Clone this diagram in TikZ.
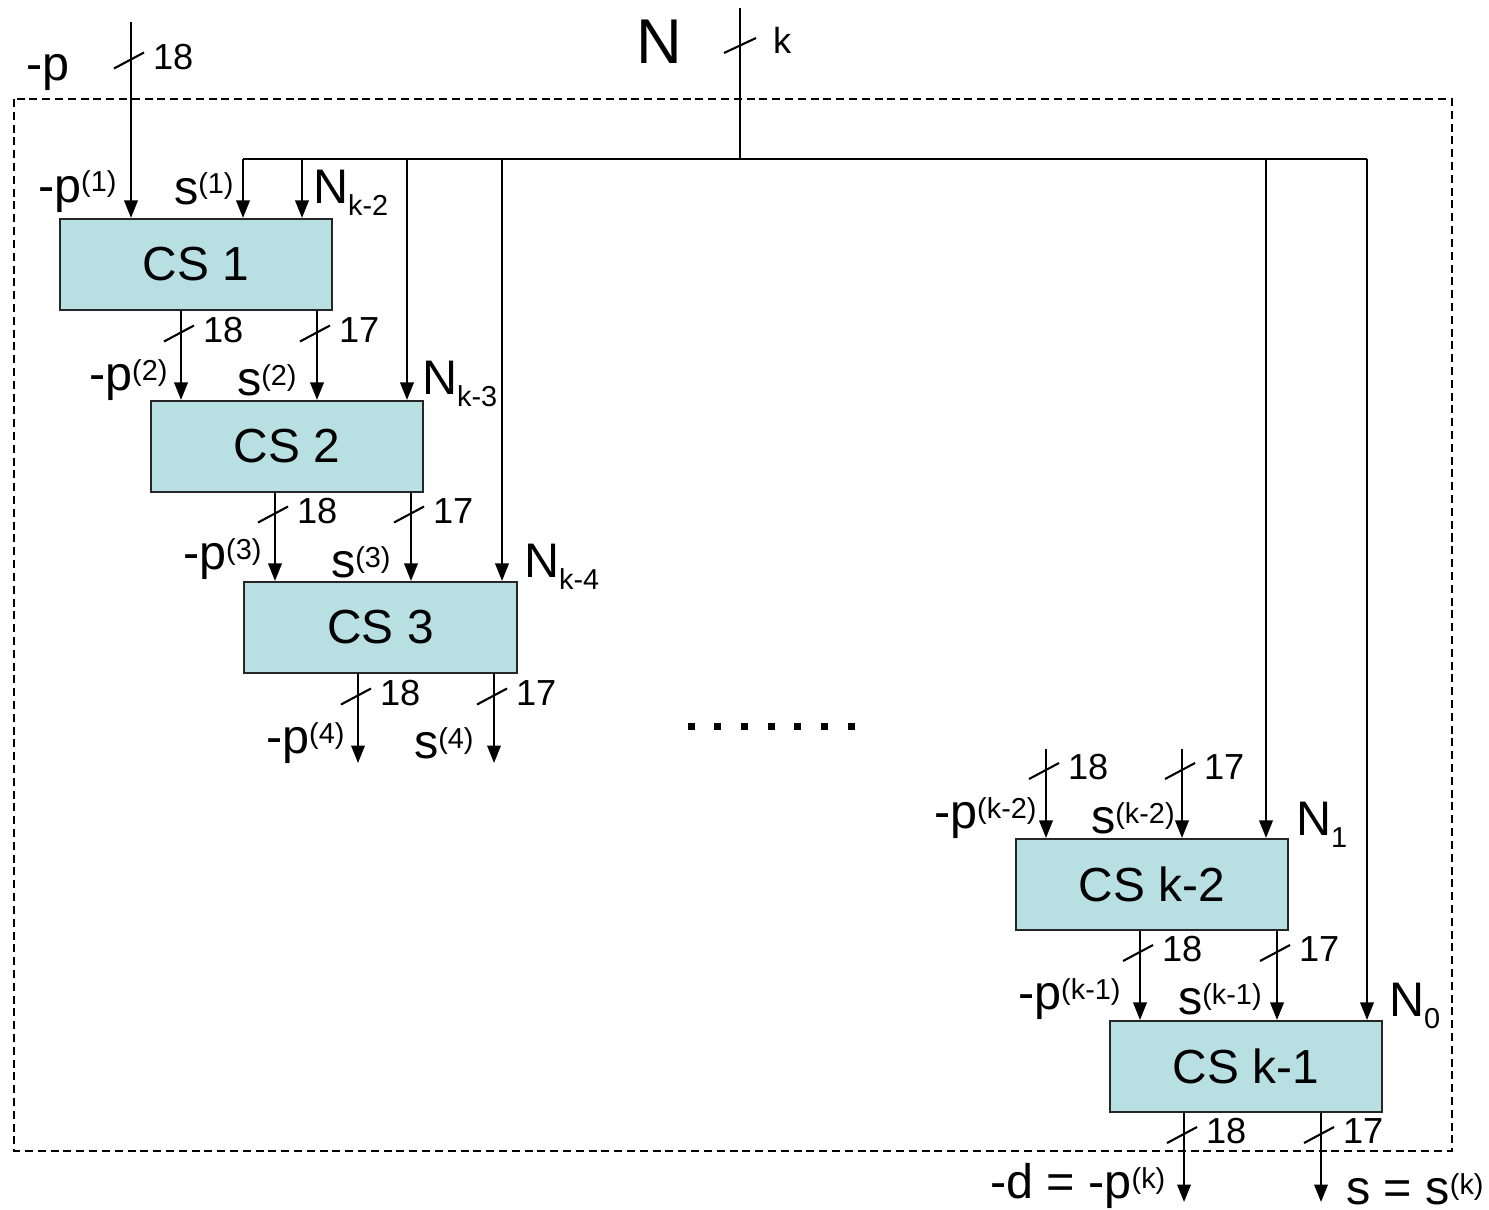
\documentclass[tikz,border=0pt]{standalone}
\usepackage{fontspec}
\setmainfont{Liberation Sans}
\usetikzlibrary{arrows.meta}
\definecolor{boxc}{RGB}{184,224,227}
\newcommand\upx[1]{\raisebox{0.1cm}{\fontsize{8.2}{8}\selectfont #1}}
\newcommand\dnx[1]{\raisebox{-0.125cm}{\fontsize{8.2}{8}\selectfont #1}}
\newcommand\wtick[4]{%
  \draw ({#1-17},{#2+8}) -- ({#1+13},{#2-8});
  \node[num] (#4) at ({#1+21},{#2+8.5}) {#3};}
\begin{document}
\begin{tikzpicture}[x=0.01cm,y=-0.01cm,line width=0.6pt,
  lbl/.style={anchor=base west,inner sep=0pt,font=\fontsize{13.8}{14}\selectfont},
  num/.style={anchor=base west,inner sep=0pt,font=\fontsize{10.3}{11}\selectfont},
  csbox/.style={draw=black!85,fill=boxc,minimum width=2.72cm,minimum height=0.91cm,
    inner sep=0pt,font=\fontsize{13.6}{15}\selectfont},
  arr/.style={-{Triangle[length=0.175cm,width=0.135cm]}},
  dashedframe/.style={dash pattern=on 0.08cm off 0.048cm}]
\useasboundingbox (0,0) rectangle (1489,1209);
\draw[dashedframe] (14,99) rectangle (1452,1151);

% boxes
\node[csbox] (cs1) at (196,264.5) {CS 1};
\node[csbox] (cs2) at (287,446.5) {CS 2};
\node[csbox] (cs3) at (380.5,627.5) {CS 3};
\node[csbox] (csk2) at (1152,884.5) {CS k-2};
\node[csbox] (csk1) at (1246,1066.5) {CS k-1};

% coordinates
\coordinate (ptop) at (131,22);
\coordinate (ntop) at (740,8);
\coordinate (bj) at (740,159);
\coordinate (busL) at (243,159);
\coordinate (b2) at (302,159);
\coordinate (b3) at (407,159);
\coordinate (b4) at (502,159);
\coordinate (b5) at (1266,159);
\coordinate (busR) at (1367,159);
\coordinate (x1a) at (181,0);
\coordinate (x1b) at (317,0);
\coordinate (x2a) at (275,0);
\coordinate (x2b) at (411,0);
\coordinate (e3a) at (358,763);
\coordinate (e3b) at (494,763);
\coordinate (k2a) at (1046,749);
\coordinate (k2b) at (1182,749);
\coordinate (xka) at (1140,0);
\coordinate (xkb) at (1277,0);
\coordinate (eka) at (1184,1202);
\coordinate (ekb) at (1321,1202);

% top inputs and bus
\draw[arr] (ptop) -- (ptop |- cs1.north);
\draw (ntop) -- (bj);
\draw (busL) -- (busR);
\draw[arr] (busL) -- (busL |- cs1.north);
\draw[arr] (b2) -- (b2 |- cs1.north);
\draw[arr] (b3) -- (b3 |- cs2.north);
\draw[arr] (b4) -- (b4 |- cs3.north);
\draw[arr] (b5) -- (b5 |- csk2.north);
\draw[arr] (busR) -- (busR |- csk1.north);

% stage connections
\draw[arr] (cs1.south -| x1a) -- (cs2.north -| x1a);
\draw[arr] (cs1.south -| x1b) -- (cs2.north -| x1b);
\draw[arr] (cs2.south -| x2a) -- (cs3.north -| x2a);
\draw[arr] (cs2.south -| x2b) -- (cs3.north -| x2b);
\draw[arr] (cs3.south -| e3a) -- (e3a);
\draw[arr] (cs3.south -| e3b) -- (e3b);
\draw[arr] (k2a) -- (k2a |- csk2.north);
\draw[arr] (k2b) -- (k2b |- csk2.north);
\draw[arr] (csk2.south -| xka) -- (csk1.north -| xka);
\draw[arr] (csk2.south -| xkb) -- (csk1.north -| xkb);
\draw[arr] (csk1.south -| eka) -- (eka);
\draw[arr] (csk1.south -| ekb) -- (ekb);

% width ticks
\draw (724,53) -- (756,38);
\node[num] (tk) at (772,53) {k};
\wtick{131}{60.5}{18}{t0}
\wtick{181}{333.5}{18}{t1a}
\wtick{317}{333.5}{17}{t1b}
\wtick{275}{514.5}{18}{t2a}
\wtick{411}{514.5}{17}{t2b}
\wtick{358}{696.5}{18}{t3a}
\wtick{494}{696.5}{17}{t3b}
\wtick{1046}{771}{18}{t4a}
\wtick{1182}{771}{17}{t4b}
\wtick{1140}{953}{18}{t5a}
\wtick{1277}{953}{17}{t5b}
\wtick{1184}{1135}{18}{t6a}
\wtick{1321}{1135}{17}{t6b}

% labels
\node[lbl] (lp) at (25,80) {-p};
\node[anchor=base west,inner sep=0pt,font=\fontsize{18}{18}\selectfont] (lN) at (635,63) {N};
\node[lbl] (lp1) at (37,202) {-p\upx{(1)}};
\node[lbl] (ls1) at (173,204) {s\upx{(1)}};
\node[lbl] (ln1) at (312,203) {N\dnx{k-2}};
\node[lbl] (lp2) at (88,390) {-p\upx{(2)}};
\node[lbl] (ls2) at (236,395) {s\upx{(2)}};
\node[lbl] (ln2) at (421,394) {N\dnx{k-3}};
\node[lbl] (lp3) at (182,569) {-p\upx{(3)}};
\node[lbl] (ls3) at (330,577) {s\upx{(3)}};
\node[lbl] (ln3) at (523,577) {N\dnx{k-4}};
\node[lbl] (lp4) at (265,753) {-p\upx{(4)}};
\node[lbl] (ls4) at (413,758) {s\upx{(4)}};
\node[lbl] (lp5) at (933,828) {-p\upx{(k-2)}};
\node[lbl] (ls5) at (1090,833) {s\upx{(k-2)}};
\node[lbl] (ln5) at (1295,835) {N\dnx{1}};
\node[lbl] (lp6) at (1017,1009) {-p\upx{(k-1)}};
\node[lbl] (ls6) at (1177,1014) {s\upx{(k-1)}};
\node[lbl] (ln6) at (1388,1016) {N\dnx{0}};
\node[lbl] (lpk) at (989,1198) {-d = -p\upx{(k)}};
\node[lbl] (lsk) at (1345,1204) {s = s\upx{(k)}};

% continuation dots
\foreach \i in {0,...,6}
  \fill ({691+26.67*\i-3.5},722.5) rectangle ++(7,7);
\end{tikzpicture}
\end{document}
